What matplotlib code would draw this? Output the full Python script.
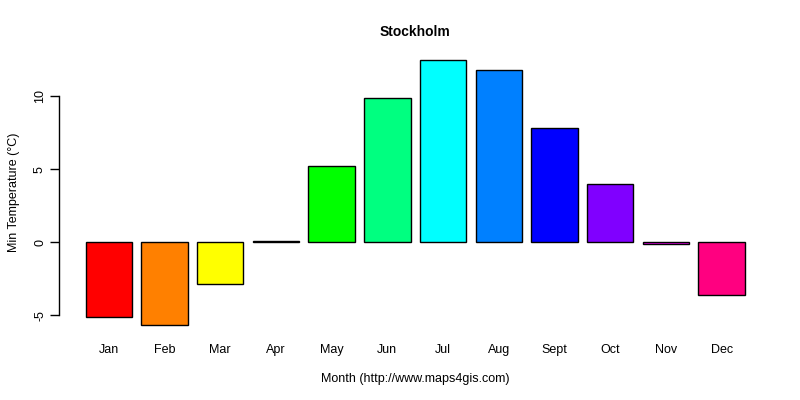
import matplotlib
matplotlib.use('Agg')
import matplotlib.pyplot as plt

# data (minimum temperature per month, Stockholm)
months = ['Jan', 'Feb', 'Mar', 'Apr', 'May', 'Jun', 'Jul', 'Aug', 'Sept', 'Oct', 'Nov', 'Dec']
min_temp = [-5.1, -5.7, -2.9, 0.1, 5.2, 9.9, 12.5, 11.8, 7.8, 4.0, -0.1, -3.6]
colors = ['#FF0000', '#FF8000', '#FFFF00', '#80FF00', '#00FF00', '#00FF80',
          '#00FFFF', '#0080FF', '#0000FF', '#8000FF', '#FF00FF', '#FF0080']
yticks = [-5, 0, 5, 10]

plt.rcParams['font.family'] = ['Liberation Sans', 'DejaVu Sans']

fig = plt.figure(figsize=(8, 4), dpi=100)
ax = fig.add_axes([0.074, 0.16, 0.89, 0.7175])

# R style barplot positions: width 1, space 0.2
xpos = [0.7 + 1.2 * i for i in range(len(months))]
ax.bar(xpos, min_temp, width=1.0, color=colors, edgecolor='black', linewidth=1.0)

# axis limits like R (4% padding)
xmin, xmax = 0.2, xpos[-1] + 0.5
pad = (xmax - xmin) * 0.04
ax.set_xlim(xmin - pad, xmax + pad)
ymin, ymax = min(min_temp), max(min_temp)
ypad = (ymax - ymin) * 0.04
ax.set_ylim(ymin - ypad, ymax + ypad)

for s in ['top', 'right', 'bottom']:
    ax.spines[s].set_visible(False)
ax.spines['left'].set_bounds(yticks[0], yticks[-1])
ax.spines['left'].set_linewidth(1.0)

ax.set_yticks(yticks)
ax.set_yticklabels([str(t) for t in yticks], rotation=90, va='center', fontsize=9)
ax.tick_params(axis='y', length=6.5, width=1.0, pad=3)

ax.set_xticks(xpos)
ax.set_xticklabels(months, fontsize=9)
ax.tick_params(axis='x', length=0, pad=6)

ax.set_xlabel('Month (http://www.maps4gis.com)', fontsize=9, labelpad=12)
ax.set_ylabel('Min Temperature (°C)', fontsize=9, labelpad=10)
ax.set_title('Stockholm', fontsize=10, fontweight='bold', pad=9)

plt.savefig('out.png', dpi=100)
